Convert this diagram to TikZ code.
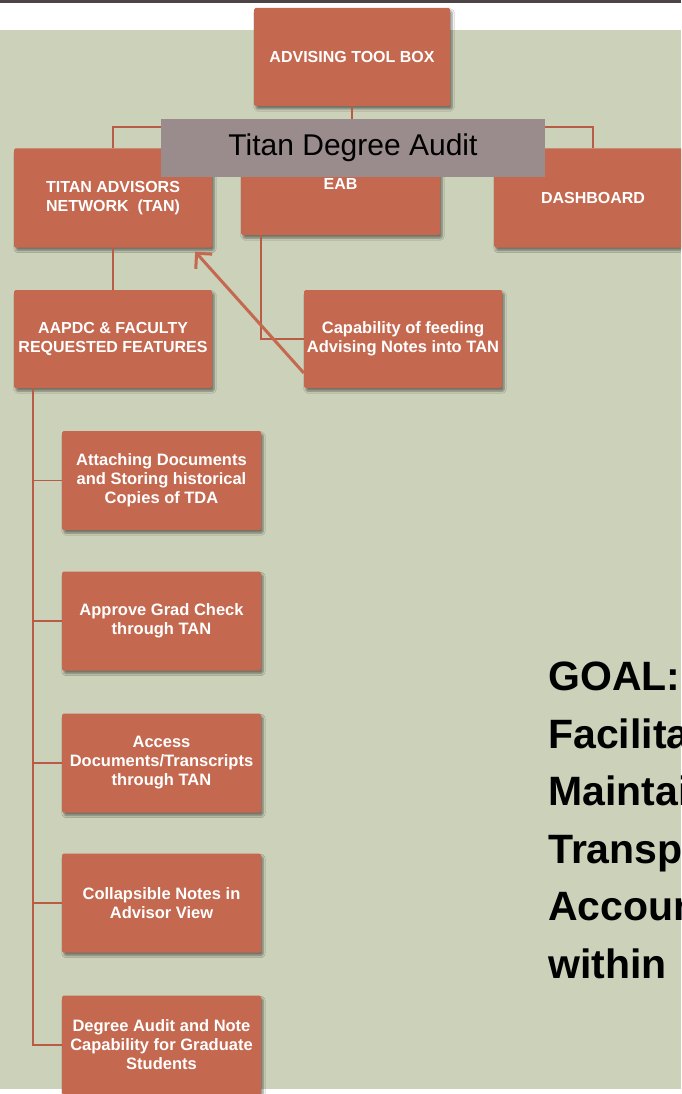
\documentclass[tikz,border=0pt]{standalone}
\usepackage{fontspec}
\setmainfont{Liberation Sans}
\usetikzlibrary{calc,arrows.meta,shadows.blur}
\definecolor{boxc}{HTML}{C4684F}
\definecolor{linec}{HTML}{B85C45}
\definecolor{bgc}{HTML}{CCD1B9}
\definecolor{bannerc}{HTML}{9A8C8C}
\definecolor{topbar}{HTML}{4D4545}
\tikzset{
  box/.style={fill=boxc, draw=none, rounded corners=1.5pt, text=white, align=center,
    font=\bfseries\fontsize{16}{19}\selectfont, inner sep=2pt,
    blur shadow={shadow xshift=2pt, shadow yshift=-3pt, shadow blur steps=6, shadow opacity=45}},
  subbox/.style={box, minimum width=199pt, minimum height=99pt, font=\bfseries\fontsize{16.5}{19}\selectfont},
  conn/.style={draw=linec, line width=1.8pt},
  banner/.style={fill=bannerc, minimum width=384pt, minimum height=58pt, inner sep=0pt,
    font=\fontsize{30}{32}\selectfont, text=black},
}
\begin{document}
\begin{tikzpicture}[x=1pt,y=-1pt]
\clip (0,0) rectangle (681,1094);
\fill[white] (0,0) rectangle (681,1094);
\fill[topbar] (0,0) rectangle (681,3);
\fill[bgc] (0,30) rectangle (681,1089);

\node[box, minimum width=196pt, minimum height=98pt] (atb) at (352,57) {ADVISING TOOL BOX};
\node[box, minimum width=198pt, minimum height=99pt] (tan) at (113,198) {TITAN ADVISORS\\NETWORK\ \ (TAN)};
\node[box, minimum width=199pt, minimum height=102pt] (eab) at (340.5,184) {EAB};
\node[box, minimum width=198pt, minimum height=99pt] (dash) at (593,198) {DASHBOARD};
\node[box, minimum width=198pt, minimum height=98pt] (aapdc) at (113,339) {AAPDC \& FACULTY\\REQUESTED FEATURES};
\node[box, minimum width=198pt, minimum height=98pt, font=\bfseries\fontsize{16.5}{19}\selectfont] (cap) at (403,339) {Capability of feeding\\Advising Notes into TAN};
\node[subbox] (c1) at (161.5,480.5) {Attaching Documents\\and Storing historical\\Copies of TDA};
\node[subbox] (c2) at (161.5,621) {Approve Grad Check\\through TAN};
\node[subbox] (c3) at (161.5,763) {Access\\Documents/Transcripts\\through TAN};
\node[subbox] (c4) at (161.5,903) {Collapsible Notes in\\Advisor View};
\node[subbox] (c5) at (161.5,1045) {Degree Audit and Note\\Capability for Graduate\\Students};

% connectors (all end on node borders)
\coordinate (bus) at ($(atb.south)+(0,21)$);
\draw[conn] (atb.south) -- (bus) -| (tan.north);
\draw[conn] (bus) -| (dash.north);
\draw[conn] (bus) -| (eab.north);
\draw[conn] (tan.south) -- (aapdc.north);
\draw[conn] ($(eab.south west)+(20,0)$) |- (cap.west);
\coordinate (spine) at ($(aapdc.south west)+(19,0)$);
\draw[conn] (spine) |- (c1.west);
\draw[conn] (spine) |- (c2.west);
\draw[conn] (spine) |- (c3.west);
\draw[conn] (spine) |- (c4.west);
\draw[conn] (spine) |- (c5.west);

\fill[white] (0,1089) rectangle (60,1094);

% banner
\node[banner] (tda) at (353,148) {Titan Degree Audit};

% arrow
\draw[draw=boxc, line width=3pt, -{Straight Barb[length=11pt,width=22pt,line width=3pt]}]
  ($(cap.west)+(0,34)$) -- ($(tan.south east)+(-17,4)$);

% goal text
\node[anchor=north west, inner sep=0pt, align=left, font=\bfseries\fontsize{41}{57.5}\selectfont] (goal) at (548,662)
  {GOAL:\\Facilitate\\Maintain\\Transparency\\Accountability\\within};
\end{tikzpicture}
\end{document}
